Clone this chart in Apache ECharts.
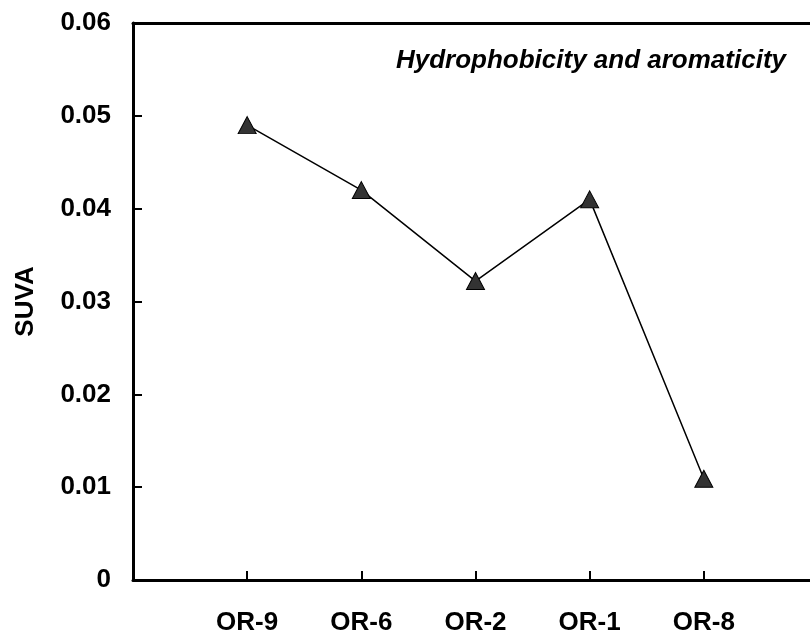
<!DOCTYPE html>
<html>
<head>
<meta charset="utf-8">
<script src="https://cdn.jsdelivr.net/npm/echarts@6/dist/echarts.min.js"></script>
<style>
html,body{margin:0;padding:0;background:#fff;}
#chart{width:810px;height:636px;}
</style>
</head>
<body>
<div id="chart"></div>
<script>
// sample sites and SUVA values
var sites = ['OR-9', 'OR-6', 'OR-2', 'OR-1', 'OR-8'];
var suva = [0.049, 0.042, 0.0322, 0.041, 0.0109];
var yTicks = [0, 0.01, 0.02, 0.03, 0.04, 0.05, 0.06];

var chart = echarts.init(document.getElementById('chart'));
var font = 'Liberation Sans, Arial, sans-serif';

var pts = [], slots = [];
for (var i = 0; i < sites.length; i++) {
    pts.push([i + 1, suva[i]]);
    slots.push(i + 1);
}

var option = {
    animation: false,
    title: {
        text: 'Hydrophobicity and aromaticity',
        right: 19,
        top: 43,
        textStyle: {
            fontFamily: font,
            fontSize: 26,
            fontWeight: 'bold',
            fontStyle: 'italic',
            color: '#000'
        }
    },
    grid: {left: 133, right: 0, top: 23, bottom: 53},
    xAxis: [{
        type: 'value',
        min: 0,
        max: 5.93,  // box is cut off at the page edge in the original
        splitLine: {show: false},
        axisLine: {lineStyle: {color: '#000', width: 3}},
        axisTick: {inside: true, length: 9, customValues: slots, lineStyle: {color: '#000', width: 2}},
        axisLabel: {
            margin: 30,
            customValues: slots,
            fontFamily: font,
            fontSize: 26,
            fontWeight: 'bold',
            color: '#000',
            formatter: function (v) {
                return sites[v - 1] || '';
            }
        }
    }, {
        type: 'value',
        position: 'top',
        min: 0,
        max: 5.93,
        splitLine: {show: false},
        axisLine: {lineStyle: {color: '#000', width: 3}},
        axisTick: {show: false},
        axisLabel: {show: false}
    }],
    yAxis: {
        type: 'value',
        min: yTicks[0],
        max: yTicks[yTicks.length - 1],
        interval: 0.01,
        name: 'SUVA',
        nameLocation: 'middle',
        nameGap: 94,
        nameTextStyle: {fontFamily: font, fontSize: 26, fontWeight: 'bold', color: '#000'},
        splitLine: {show: false},
        axisLine: {show: true, lineStyle: {color: '#000', width: 3}},
        axisTick: {show: true, inside: true, length: 9, lineStyle: {color: '#000', width: 2}},
        axisLabel: {
            margin: 22,
            fontFamily: font,
            fontSize: 26,
            fontWeight: 'bold',
            color: '#000',
            formatter: function (v) {
                return v === 0 ? '0' : v.toFixed(2);
            }
        }
    },
    series: [{
        type: 'line',
        data: pts,
        symbol: 'triangle',
        symbolSize: [18, 17],
        lineStyle: {color: '#000', width: 1.5},
        itemStyle: {color: '#333', borderColor: '#000', borderWidth: 1}
    }]
};
chart.setOption(option);
</script>
</body>
</html>
